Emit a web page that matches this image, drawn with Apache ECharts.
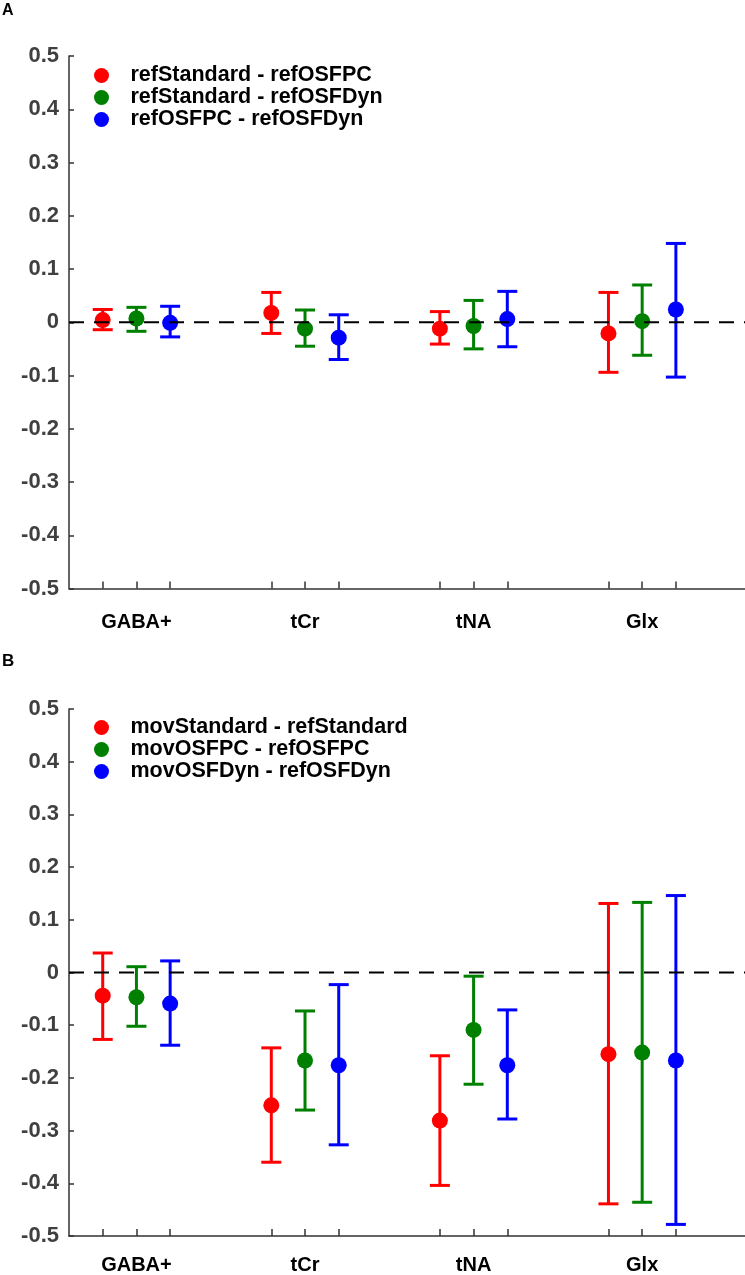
<!DOCTYPE html>
<html>
<head>
<meta charset="utf-8">
<script src="https://cdn.jsdelivr.net/npm/echarts@6/dist/echarts.min.js"></script>
<style>
html,body{margin:0;padding:0;background:#fff;}
#chart{width:745px;height:1275px;}
</style>
</head>
<body>
<div id="chart"></div>
<script>
// ---------------- DATA ----------------
const categories = ['GABA+', 'tCr', 'tNA', 'Glx'];
const seriesOffsets = [-0.2, 0, 0.2];
const colors = ['#ff0000', '#008000', '#0000ff'];

// Panel A
const namesA = ['refStandard - refOSFPC', 'refStandard - refOSFDyn', 'refOSFPC - refOSFDyn'];
const meanA_red   = [0.004, 0.0175, -0.012, -0.021];
const meanA_green = [0.007, -0.012, -0.007, 0.002];
const meanA_blue  = [-0.001, -0.029, 0.006, 0.024];
const upA_red     = [0.024, 0.056, 0.020, 0.056];
const upA_green   = [0.028, 0.023, 0.041, 0.070];
const upA_blue    = [0.030, 0.014, 0.058, 0.148];
const loA_red     = [-0.014, -0.021, -0.041, -0.094];
const loA_green   = [-0.017, -0.045, -0.050, -0.062];
const loA_blue    = [-0.0275, -0.070, -0.046, -0.103];

// Panel B
const namesB = ['movStandard - refStandard', 'movOSFPC - refOSFPC', 'movOSFDyn - refOSFDyn'];
const meanB_red   = [-0.044, -0.252, -0.281, -0.155];
const meanB_green = [-0.047, -0.167, -0.109, -0.152];
const meanB_blue  = [-0.059, -0.176, -0.176, -0.167];
const upB_red     = [0.037, -0.143, -0.158, 0.131];
const upB_green   = [0.011, -0.073, -0.007, 0.133];
const upB_blue    = [0.022, -0.023, -0.071, 0.146];
const loB_red     = [-0.127, -0.360, -0.404, -0.439];
const loB_green   = [-0.102, -0.261, -0.212, -0.436];
const loB_blue    = [-0.138, -0.327, -0.278, -0.478];

const yMin = -0.5, yMax = 0.5, yStep = 0.1;
const referenceLevel = 0;

// ---------------- BUILD ----------------
const FONT = "'Liberation Sans', Arial, Helvetica, sans-serif";
const panels = [
  {names: namesA, means: [meanA_red, meanA_green, meanA_blue], ups: [upA_red, upA_green, upA_blue], los: [loA_red, loA_green, loA_blue]},
  {names: namesB, means: [meanB_red, meanB_green, meanB_blue], ups: [upB_red, upB_green, upB_blue], los: [loB_red, loB_green, loB_blue]}
];
const xMin = 0.6, xMax = 4.61;
const tickPositions = [];
categories.forEach((c, i) => seriesOffsets.forEach(o => tickPositions.push(+(i + 1 + o).toFixed(3))));

const grids = [
  {left: 69, top: 56, width: 676, height: 532.5},
  {left: 69, top: 709, width: 676, height: 533}
];
const labelMargins = [24, 19];
const legendTops = [59.5, 711.5];

const xAxes = [], yAxes = [], series = [], legends = [];
panels.forEach((p, gi) => {
  xAxes.push({
    gridIndex: gi, type: 'value', min: xMin, max: xMax,
    axisLine: {show: true, onZero: false, lineStyle: {color: '#333', width: 1.5}},
    axisTick: {show: true, inside: true, length: 7, customValues: tickPositions, lineStyle: {color: '#333', width: 1.5}},
    axisLabel: {show: true, customValues: categories.map((c, i) => i + 1),
      formatter: v => categories[Math.round(v) - 1] || '',
      margin: labelMargins[gi], color: '#000', fontSize: 20, fontWeight: 'bold', fontFamily: FONT},
    splitLine: {show: false}
  });
  yAxes.push({
    gridIndex: gi, type: 'value', min: yMin, max: yMax, interval: yStep,
    axisLine: {show: true, onZero: false, lineStyle: {color: '#333', width: 1.5}},
    axisTick: {show: true, inside: true, length: 5, lineStyle: {color: '#333', width: 1.5}},
    axisLabel: {color: '#404040', fontSize: 22, fontWeight: 'bold', fontFamily: FONT, margin: 10,
      formatter: v => (Math.round(v * 10) / 10).toString()},
    splitLine: {show: false}
  });
  p.names.forEach((name, si) => {
    const errData = categories.map((c, ci) => [ci + 1 + seriesOffsets[si], p.ups[si][ci], p.los[si][ci]]);
    series.push({
      type: 'custom', name: name + ' err', xAxisIndex: gi, yAxisIndex: gi, z: 2,
      data: errData, encode: {x: 0, y: [1, 2]}, silent: true,
      renderItem: (params, api) => {
        const x = api.value(0);
        const a = api.coord([x, api.value(1)]);
        const b = api.coord([x, api.value(2)]);
        const hw = 10;
        const st = {stroke: colors[si], lineWidth: 3};
        return {type: 'group', children: [
          {type: 'line', shape: {x1: a[0], y1: a[1], x2: b[0], y2: b[1]}, style: st},
          {type: 'line', shape: {x1: a[0] - hw, y1: a[1], x2: a[0] + hw, y2: a[1]}, style: st},
          {type: 'line', shape: {x1: b[0] - hw, y1: b[1], x2: b[0] + hw, y2: b[1]}, style: st}
        ]};
      }
    });
    series.push({
      type: 'scatter', name: name, xAxisIndex: gi, yAxisIndex: gi, z: 3,
      symbol: 'circle', symbolSize: 16,
      itemStyle: {color: colors[si], opacity: 1},
      data: categories.map((c, ci) => [ci + 1 + seriesOffsets[si], p.means[si][ci]])
    });
  });
  series.push({
    type: 'line', xAxisIndex: gi, yAxisIndex: gi, z: 4, silent: true, symbol: 'none',
    data: [[xMin, referenceLevel], [xMax, referenceLevel]],
    lineStyle: {color: '#000', width: 2, type: [15, 10]}
  });
  legends.push({
    data: p.names, orient: 'vertical', left: 89, top: legendTops[gi],
    icon: 'circle', itemWidth: 48, itemHeight: 15, itemGap: 0,
    selectedMode: false,
    textStyle: {fontSize: 21.5, fontWeight: 'bold', fontFamily: FONT, color: '#000', lineHeight: 21.5}
  });
});

const chart = echarts.init(document.getElementById('chart'), null, {renderer: 'canvas'});
chart.setOption({
  backgroundColor: '#fff',
  animation: false,
  title: [
    {text: 'A', left: 2, top: 3, padding: 0, textStyle: {fontSize: 16, fontWeight: 'bold', fontFamily: FONT, color: '#000'}},
    {text: 'B', left: 2, top: 653, padding: 0, textStyle: {fontSize: 17, fontWeight: 'bold', fontFamily: FONT, color: '#000'}}
  ],
  grid: grids,
  xAxis: xAxes,
  yAxis: yAxes,
  legend: legends,
  series: series
});
</script>
</body>
</html>
